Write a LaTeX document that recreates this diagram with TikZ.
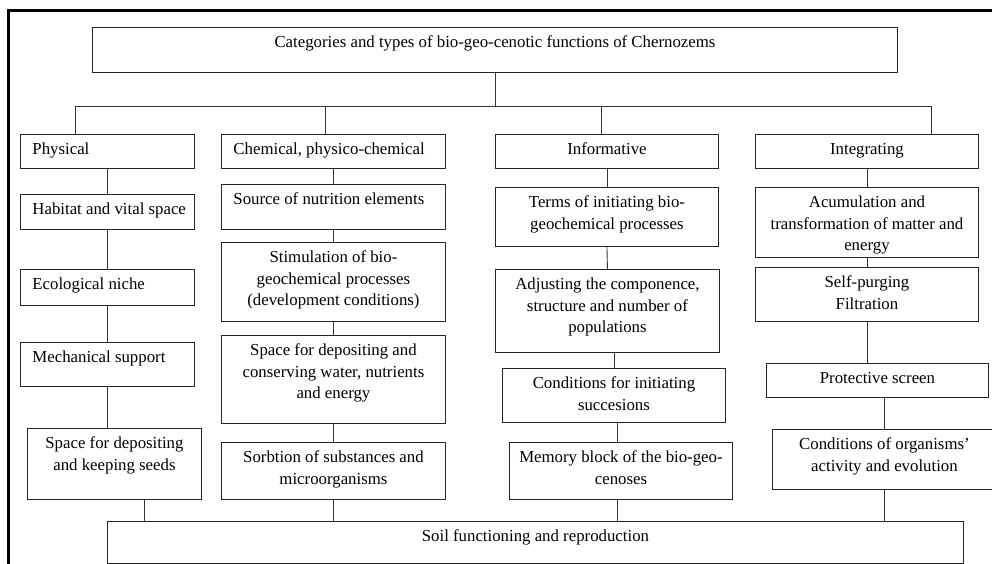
\documentclass[tikz,border=0pt]{standalone}
\usepackage{fontspec}
\setmainfont{Liberation Serif}
\usetikzlibrary{positioning}

% fixed size text block: width, height, text on top
\newcommand{\cell}[4][\centering]{\parbox[t][#3][t]{#2}{\vspace*{5pt}#1\strut #4}}
\newcommand{\lft}{\raggedright\leftskip=12pt}

\begin{document}
\begin{tikzpicture}[x=1pt,y=-1pt,
    font=\fontsize{16.8}{21.5}\selectfont,
    cell/.style={draw=black!85,line width=0.9pt,inner sep=0pt,anchor=north west},
    conn/.style={draw=black!80,line width=0.9pt}]
  \useasboundingbox (0,0) rectangle (992,564);
  \clip (0,0) rectangle (992,564);
  \draw[line width=3pt] (8,600) -- (8,11) -- (1000,11);

  % top
  \node[cell] (top) at (92,27) {\cell{805pt}{45pt}{Categories and types of bio-geo-cenotic functions of Chernozems}};

  % categories
  \node[cell] (phys) at (20,134) {\cell[\lft]{174pt}{34pt}{Physical}};
  \node[cell] (chem) at (221,134) {\cell[\lft]{224pt}{34pt}{Chemical, physico-chemical}};
  \node[cell] (info) at (495,134) {\cell{223pt}{34pt}{Informative}};
  \node[cell] (integ) at (755,134) {\cell{223pt}{34pt}{Integrating}};

  % physical
  \node[cell] (hab) at (20,194) {\cell[\lft]{174pt}{35pt}{Habitat and vital space}};
  \node[cell] (niche) at (20,269) {\cell[\lft]{174pt}{36pt}{Ecological niche}};
  \node[cell] (mech) at (20,342) {\cell[\lft]{174pt}{44pt}{Mechanical support}};
  \node[cell] (seeds) at (27,428) {\cell{174pt}{71pt}{Space for depositing\\and keeping seeds}};

  % chemical
  \node[cell] (src) at (221,184) {\cell[\lft]{224pt}{45pt}{Source of nutrition elements}};
  \node[cell] (stim) at (221,242) {\cell{224pt}{79pt}{Stimulation of bio-\\geochemical processes\\(development conditions)}};
  \node[cell] (store) at (221,335) {\cell{224pt}{88pt}{Space for depositing and\\conserving water, nutrients\\and energy}};
  \node[cell] (sorb) at (221,442) {\cell{224pt}{57pt}{Sorbtion of substances and\\microorganisms}};

  % informative
  \node[cell] (terms) at (495,187) {\cell{223pt}{59pt}{Terms of initiating bio-\\geochemical processes}};
  \node[cell] (adj) at (495,269) {\cell{224pt}{83pt}{Adjusting the componence,\\structure and number of\\populations}};
  \node[cell] (succ) at (502,368) {\cell{223pt}{54pt}{Conditions for initiating\\succesions}};
  \node[cell] (mem) at (509,442) {\cell{223pt}{57pt}{Memory block of the bio-geo-\\cenoses}};

  % integrating
  \node[cell] (acum) at (755,187) {\cell{223pt}{70pt}{Acumulation and\\transformation of matter and\\energy}};
  \node[cell] (purge) at (755,267) {\cell{223pt}{54pt}{Self-purging\\Filtration}};
  \node[cell] (prot) at (766,363) {\cell{222pt}{34pt}{Protective screen}};
  \node[cell] (orgs) at (772,429) {\cell{224pt}{60pt}{Conditions of organisms'\\activity and evolution}};

  % bottom
  \node[cell] (soil) at (107,521) {\cell{856pt}{42pt}{Soil functioning and reproduction}};

  % bus
  \coordinate (busL) at (75,106);
  \coordinate (busC) at (325,106);
  \coordinate (busI) at (601,106);
  \coordinate (busR) at (931,106);
  \draw[conn] (top.south) -- (top.south |- busL);
  \draw[conn] (busL) -- (busR);
  \draw[conn] (busL) -- (busL |- phys.north);
  \draw[conn] (busC) -- (busC |- chem.north);
  \draw[conn] (busI) -- (busI |- info.north);
  \draw[conn] (busR) -- (busR |- integ.north);

  % columns
  \draw[conn] (phys.south) -- (hab.north);
  \draw[conn] (hab.south) -- (niche.north);
  \draw[conn] (niche.south) -- (mech.north);
  \draw[conn] (mech.south) -- (mech.south |- seeds.north);
  \draw[conn] ([xshift=30pt]seeds.south) -- ([xshift=30pt]seeds.south |- soil.north);

  \draw[conn] (chem.south) -- (src.north);
  \draw[conn] (src.south) -- (stim.north);
  \draw[conn] (stim.south) -- (store.north);
  \draw[conn] (store.south) -- (sorb.north);
  \draw[conn] (sorb.south) -- (sorb.south |- soil.north);

  \draw[conn] (info.south) -- (terms.north);
  \draw[conn] (terms.south) -- (adj.north);
  \draw[conn] (succ.north |- adj.south) -- (succ.north);
  \draw[conn] ([xshift=3.5pt]succ.south) -- ([xshift=3.5pt]succ.south |- mem.north);
  \draw[conn] ([xshift=-3.5pt]mem.south) -- ([xshift=-3.5pt]mem.south |- soil.north);

  \draw[conn] (integ.south) -- (acum.north);
  \draw[conn] (acum.south) -- (purge.north);
  \draw[conn] (purge.south) -- (purge.south |- prot.north);
  \draw[conn] (prot.south -| orgs.north) -- (orgs.north);
  \draw[conn] (orgs.south) -- (orgs.south |- soil.north);
\end{tikzpicture}
\end{document}
